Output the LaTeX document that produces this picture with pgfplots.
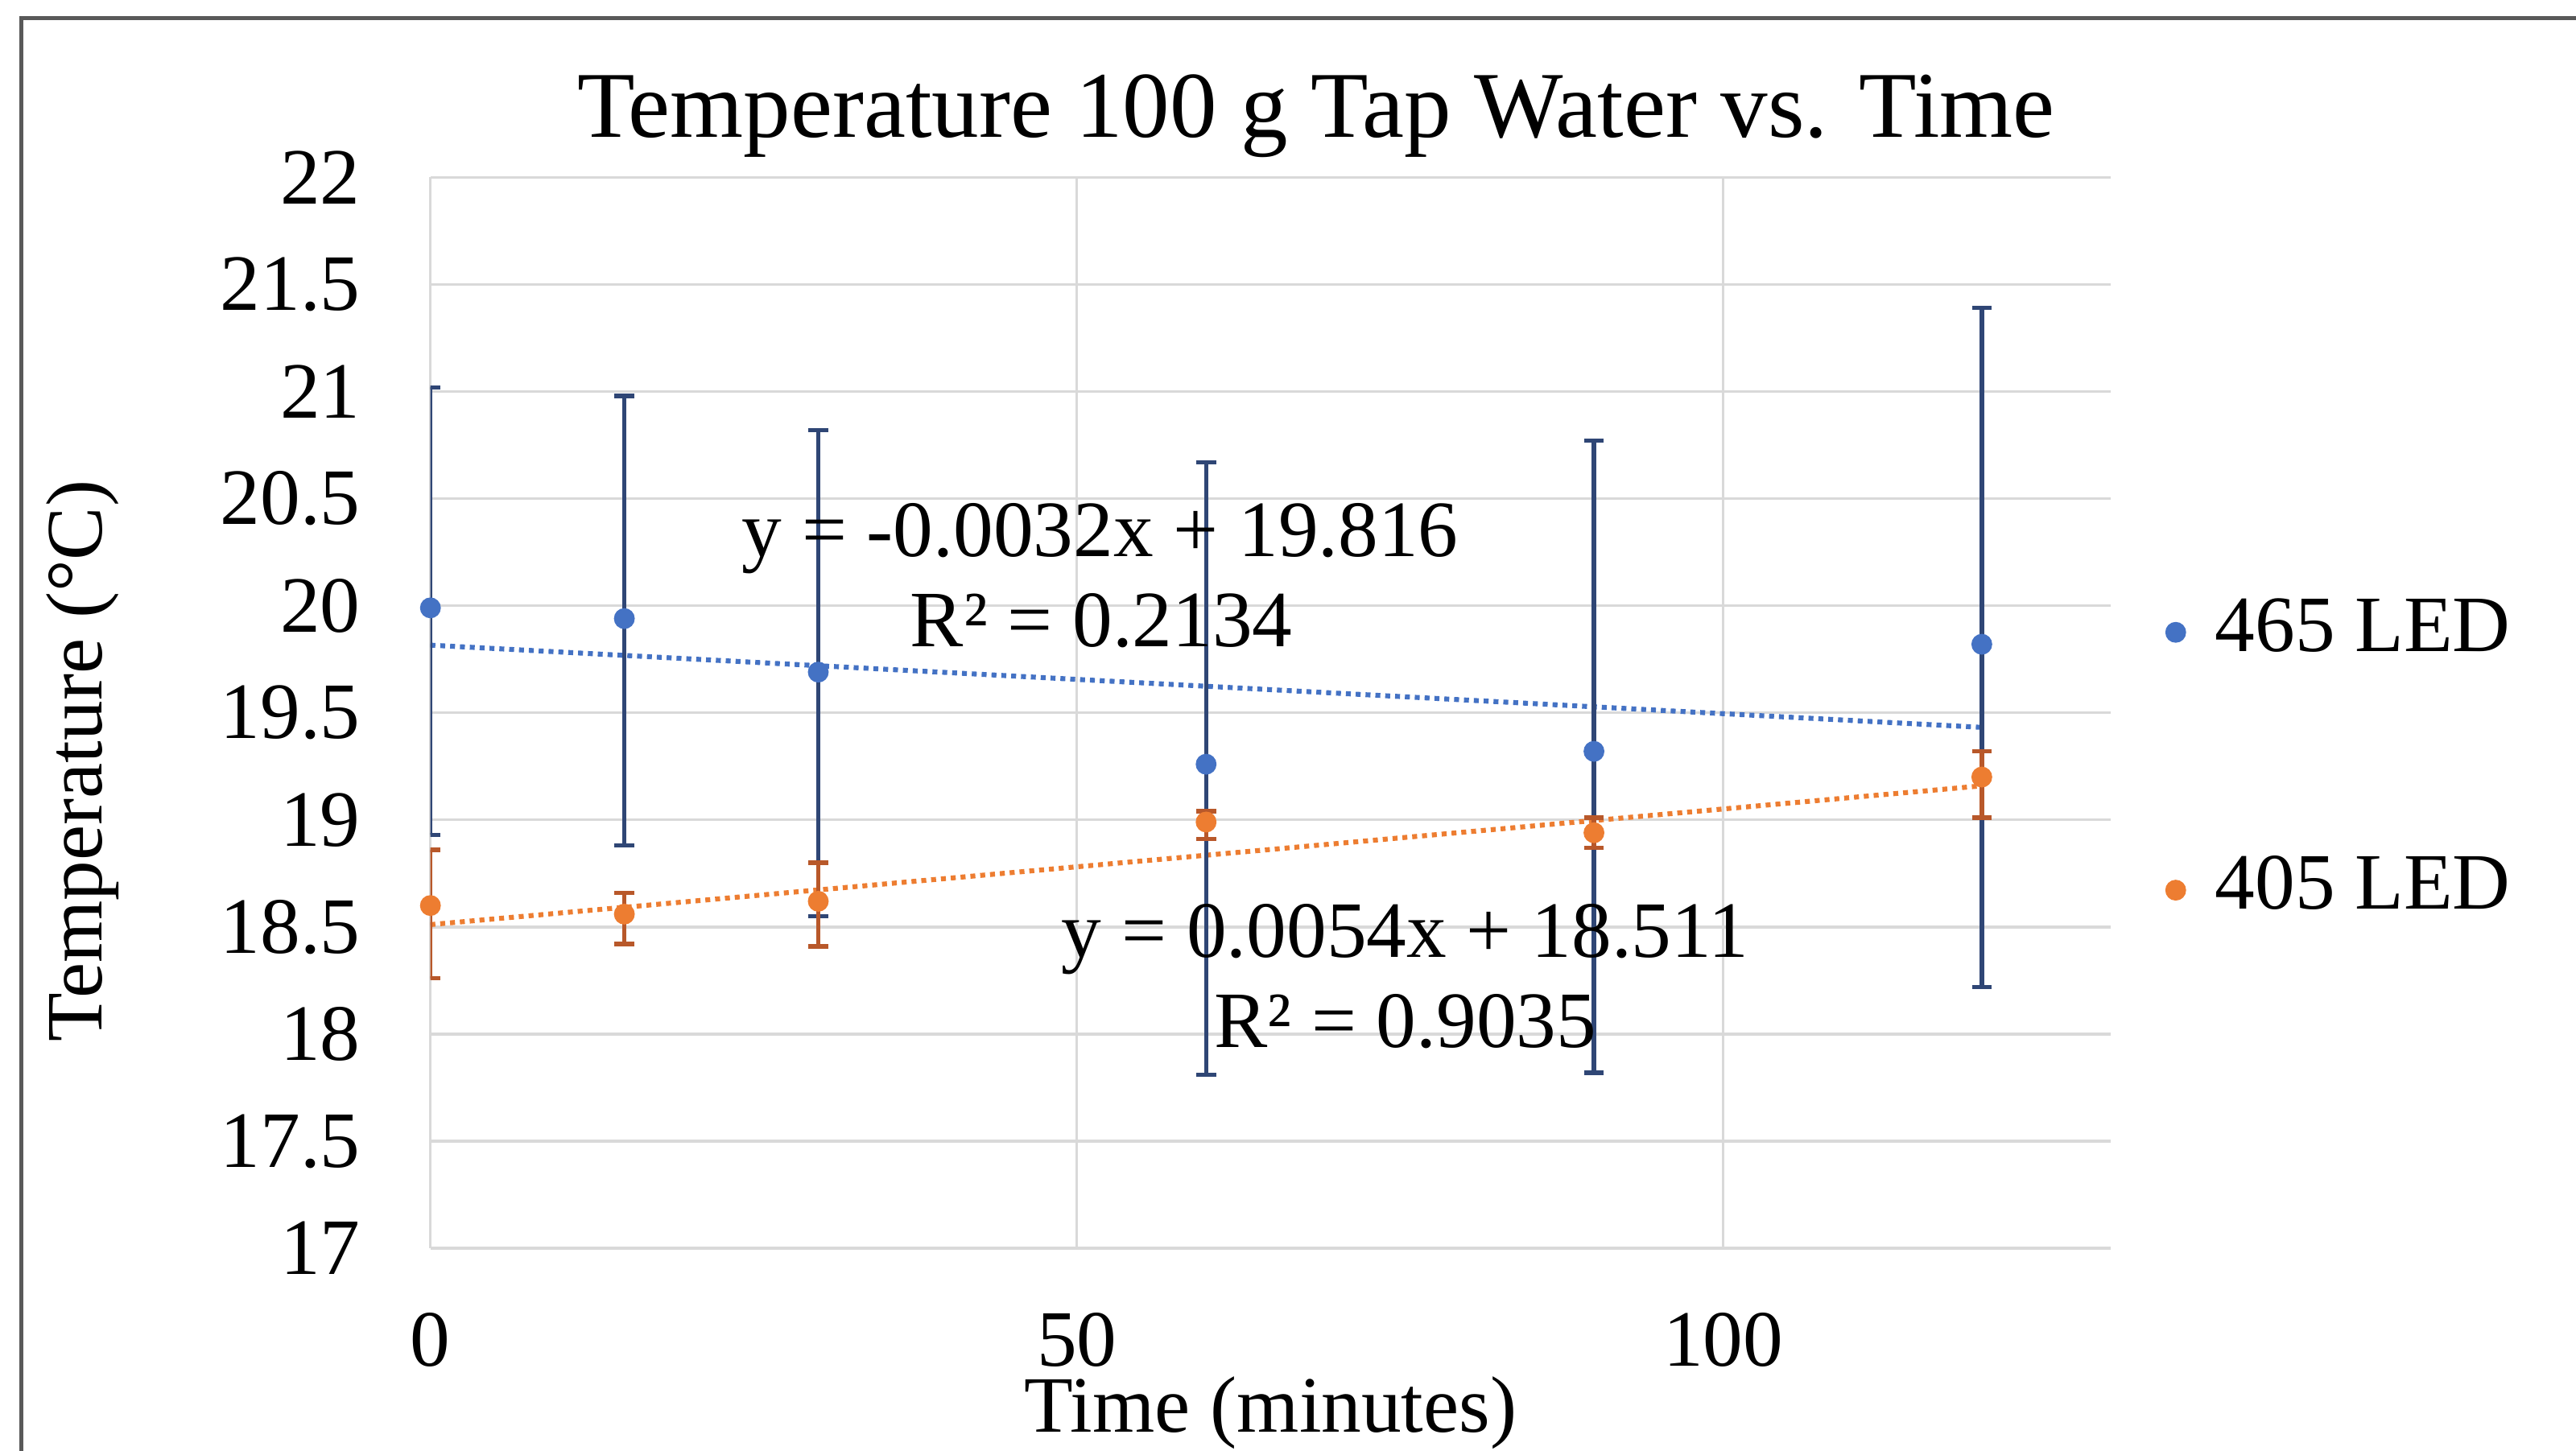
\documentclass[border=0pt]{standalone}
\usepackage{fontspec}
\setmainfont{Liberation Serif}
\usepackage{pgfplots}
\usepackage{pgfplotstable}
\pgfplotsset{compat=1.18}

\definecolor{ledblue}{HTML}{4472C4}
\definecolor{ledorange}{HTML}{ED7D31}
\definecolor{barblue}{HTML}{2F4675}
\definecolor{barorange}{HTML}{B8582A}
\definecolor{gridgray}{HTML}{D9D9D9}

% x = time (min), y = temperature, ep/em = error bar up/down
\pgfplotstableread{
x   y     ep    em
0   19.99 1.03  1.06
15  19.94 1.04  1.06
30  19.69 1.13  1.14
60  19.26 1.41  1.45
90  19.32 1.45  1.50
120 19.82 1.57  1.60
}\bluedata

\pgfplotstableread{
x   y     ep    em
0   18.60 0.26  0.34
15  18.56 0.10  0.14
30  18.62 0.18  0.21
60  18.99 0.05  0.08
90  18.94 0.07  0.07
120 19.20 0.12  0.19
}\orangedata

\newcommand{\lbl}{\fontsize{14.6}{17}\selectfont}

\begin{document}
\begin{tikzpicture}
\path[use as bounding box] (-78.6pt,-36.9pt) rectangle (391.8pt,228pt);
\draw[color=black!65, line width=0.7pt] (-74.7pt,-60pt) -- (-74.7pt,224.7pt) -- (420pt,224.7pt);

\begin{axis}[
    at={(0pt,0pt)}, anchor=south west,
    scale only axis,
    width=306.9pt, height=195.6pt,
    xmin=0, xmax=130, ymin=17, ymax=22,
    xtick={0,50,100},
    ytick={17,17.5,...,22},
    grid=major,
    grid style={gridgray, line width=0.5pt},
    axis line style={draw=none},
    tick style={draw=none},
    /pgf/number format/assume math mode=true,
    every tick label/.append style={font=\lbl},
    xticklabel style={anchor=base, inner sep=0pt, yshift=-21.6pt},
    yticklabel style={anchor=east, inner sep=0pt, xshift=-12.6pt},
    title={Temperature 100 g Tap Water vs. Time},
    title style={at={(0.527,1.007)}, anchor=base, font=\fontsize{17.2}{20}\selectfont},
    xlabel={Time (minutes)},
    xlabel style={at={(0.5,-0.1718)}, anchor=base, inner sep=0pt, font=\lbl},
    ylabel={Temperature (°C)},
    ylabel style={at={([xshift=-60pt]axis description cs:0,0.455)}, anchor=base, font=\lbl},
    legend style={at={(1,0.6094)}, anchor=north west, xshift=9.9pt,
        draw=none, fill=none, inner sep=0pt, row sep=34.1pt, font=\lbl,
        nodes={inner sep=0pt, text height=10pt, text depth=3pt},
        /tikz/every odd column/.append style={column sep=5.5pt}},
    legend cell align=left,
    legend image code/.code={\draw plot coordinates {(0cm,0cm)};},
]

% linear trendlines
\addplot[forget plot, ledblue, line width=0.9pt, dash pattern=on 0.9pt off 0.9pt]
    coordinates {(0,19.816) (120,19.432)};
\addplot[forget plot, ledorange, line width=0.9pt, dash pattern=on 0.9pt off 0.9pt]
    coordinates {(0,18.511) (120,19.159)};

\addplot[only marks, mark=*, mark size=1.7pt, color=ledblue,
    error bars/.cd, y dir=both, y explicit,
    error bar style={barblue, line width=0.8pt},
    error mark options={rotate=90, barblue, mark size=1.8pt, line width=0.8pt}]
    table[x=x, y=y, y error plus=ep, y error minus=em] {\bluedata};
\addlegendentry{465 LED}

\addplot[only marks, mark=*, mark size=1.7pt, color=ledorange,
    error bars/.cd, y dir=both, y explicit,
    error bar style={barorange, line width=0.8pt},
    error mark options={rotate=90, barorange, mark size=1.8pt, line width=0.8pt}]
    table[x=x, y=y, y error plus=ep, y error minus=em] {\orangedata};
\addlegendentry{405 LED}

\node[anchor=base, font=\lbl] at (axis cs:51.8,20.229) {y = -0.0032x + 19.816};
\node[anchor=base, font=\lbl] at (axis cs:51.9,19.810) {R² = 0.2134};
\node[anchor=base, font=\lbl] at (axis cs:75.4,18.357) {y = 0.0054x + 18.511};
\node[anchor=base, font=\lbl] at (axis cs:75.4,17.938) {R² = 0.9035};
\end{axis}
\end{tikzpicture}
\end{document}
